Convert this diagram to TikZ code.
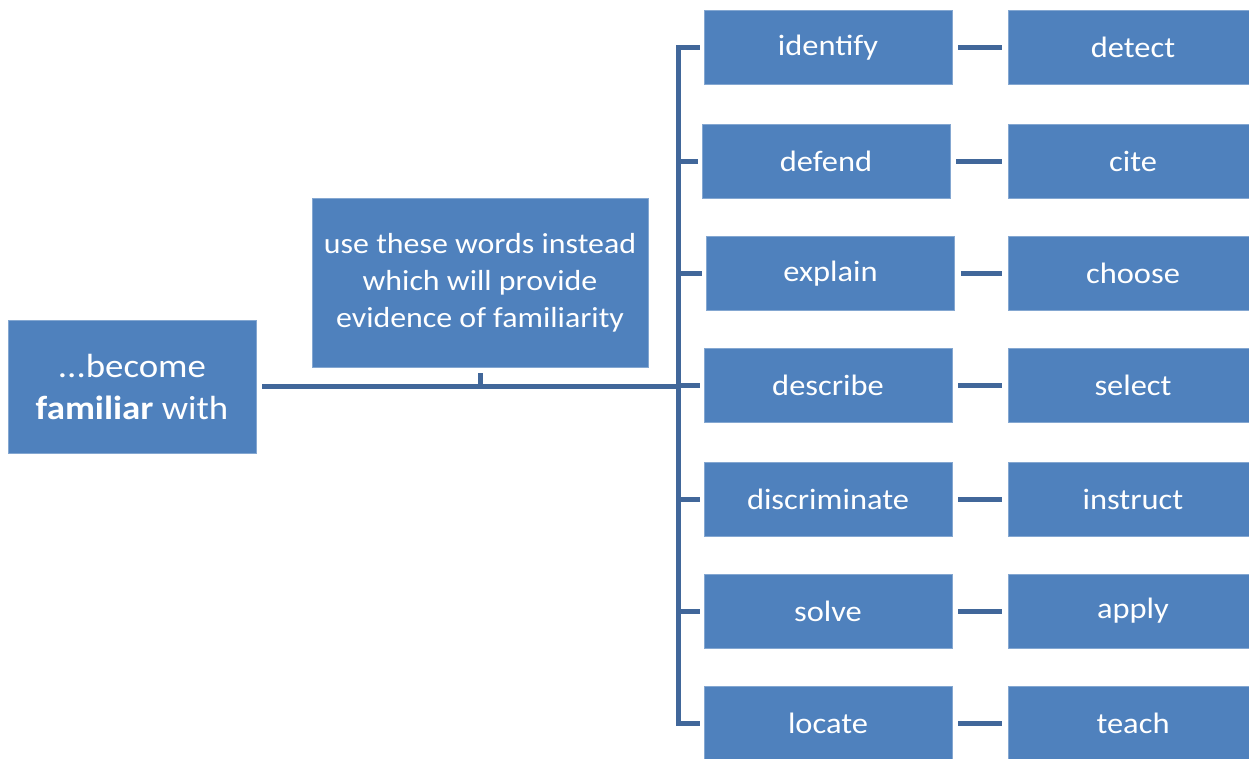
\documentclass[tikz,border=0pt]{standalone}
\usepackage{fontspec}
\setmainfont[FakeStretch=1.1]{Carlito}
\definecolor{boxblue}{HTML}{4F81BD}
\definecolor{lineblue}{HTML}{41679A}
\begin{document}
\begin{tikzpicture}[x=1pt,y=-1pt,
  box/.style={fill=boxblue, draw=boxblue!70!white, line width=0.6pt, text=white, inner sep=0pt, align=center},
  rowbox/.style={box, minimum width=248pt, minimum height=74pt, font=\fontsize{29.5}{35}\selectfont},
  farbox/.style={box, minimum width=250pt, minimum height=74pt, font=\fontsize{29.5}{35}\selectfont},
  conn/.style={draw=lineblue, line width=5pt},
  gap/.style={shorten <=6pt, shorten >=6pt}]
\useasboundingbox (0,0) rectangle (1249,758);
\node[box, minimum width=248pt, minimum height=133pt, font=\fontsize{33.5}{42}\selectfont] (left) at (132,386.5) {...become\\\textbf{familiar} with};
\node[box, minimum width=336pt, minimum height=169pt, font=\fontsize{29}{37}\selectfont] (mid) at (480,282.5) {use these words instead\\which will provide\\evidence of familiarity};
\coordinate (hub) at (678,386);
\node[rowbox] (r1) at (828,47.5) {identify};
\node[rowbox] (r2) at (826,161) {defend};
\node[rowbox] (r3) at (830.5,273.5) {explain};
\node[rowbox] (r4) at (828,385.5) {describe};
\node[rowbox] (r5) at (828,499) {discriminate};
\node[rowbox] (r6) at (828,611) {solve};
\node[rowbox] (r7) at (828,723) {locate};
\node[farbox] (f1) at (1133,47.5) {detect};
\node[farbox] (f2) at (1133,161) {cite};
\node[farbox] (f3) at (1133,273.5) {choose};
\node[farbox] (f4) at (1133,385.5) {select};
\node[farbox] (f5) at (1133,499) {instruct};
\node[farbox] (f6) at (1133,611) {apply};
\node[farbox] (f7) at (1133,723) {teach};
% main trunk
\draw[conn, shorten <=6pt] (left.east |- hub) -- (hub);
\draw[conn, shorten <=6pt] (mid.south) -- (mid.south |- hub);
% bracket
\draw[conn, line join=miter, shorten <=4pt, shorten >=4pt] (r1.west) -- (hub |- r1.west) -- (hub |- r7.west) -- (r7.west);
\foreach \i in {2,...,6} {
  \draw[conn, shorten >=4pt] (hub |- r\i.west) -- (r\i.west);
}
\foreach \i in {1,...,7} {
  \draw[conn, gap] (r\i.east) -- (f\i.west);
}
\end{tikzpicture}
\end{document}
